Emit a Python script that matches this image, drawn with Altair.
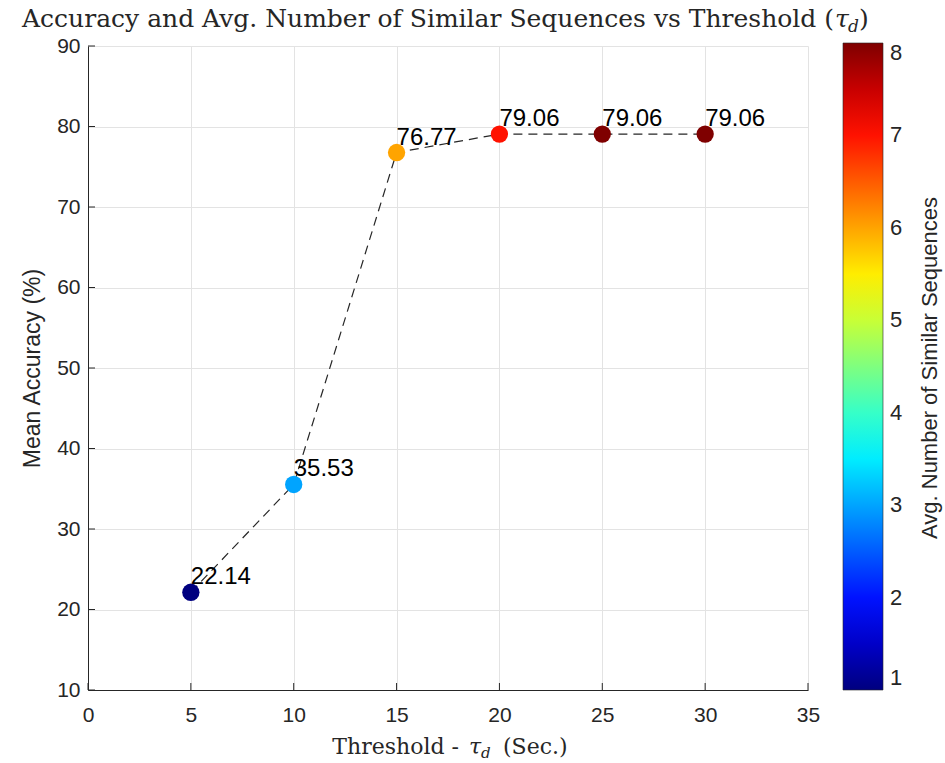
import altair as alt
import pandas as pd

# Threshold sweep results
thresholds = [5, 10, 15, 20, 25, 30]
accuracy = [22.14, 35.53, 76.77, 79.06, 79.06, 79.06]
avg_similar = [1.0, 3.0, 6.0, 7.0, 8.0, 8.0]

x_ticks = [0, 5, 10, 15, 20, 25, 30, 35]
y_ticks = [10, 20, 30, 40, 50, 60, 70, 80, 90]
cbar_ticks = [1, 2, 3, 4, 5, 6, 7, 8]

title_main = "Accuracy and Avg. Number of Similar Sequences vs Threshold ("
xlabel_main = "Threshold -"
tau = "\u03c4"
sub_d = "d"
close_paren = ")"
xlabel_end = "(Sec.)"
ylabel = "Mean Accuracy (%)"
cbar_label = "Avg. Number of Similar Sequences"

# jet colormap stops
jet = ["#00007F", "#0000FF", "#007FFF", "#00FFFF", "#7FFF7F",
       "#FFFF00", "#FF7F00", "#FF0000", "#7F0000"]

W, H = 720, 644
INK = "#262626"
SANS = "Liberation Sans"
SERIF = "DejaVu Serif"

df = pd.DataFrame({"thr": thresholds, "acc": accuracy, "avg": avg_similar})

xs = alt.Scale(domain=[0, 35], nice=False, zero=False)
ys = alt.Scale(domain=[10, 90], nice=False, zero=False)

x_enc = alt.X("thr:Q", scale=xs,
              axis=alt.Axis(values=x_ticks, title=None, ticks=False,
                            labelPadding=14, grid=True, format="d",
                            labelFlush=False,
                            labelFontSize=21, labelFont=SANS, labelColor=INK))
y_enc = alt.Y("acc:Q", scale=ys,
              axis=alt.Axis(values=y_ticks, title=ylabel, ticks=False,
                            labelPadding=8, grid=True, format="d",
                            labelFlush=False,
                            labelFontSize=21, labelFont=SANS, labelColor=INK,
                            titleFontSize=23, titleFont=SANS,
                            titleFontWeight="normal", titleColor=INK,
                            titlePadding=12))

base = alt.Chart(df)

line = base.mark_line(strokeDash=[9, 6], color=INK,
                      strokeWidth=1.2).encode(x=x_enc, y=y_enc)

points = base.mark_circle(size=300, opacity=1).encode(
    x="thr:Q", y="acc:Q",
    color=alt.Color(
        "avg:Q",
        scale=alt.Scale(domain=[1, 8], range=jet, interpolate="rgb"),
        legend=alt.Legend(
            orient="none", legendX=755, legendY=-3, direction="vertical",
            gradientLength=647, gradientThickness=40,
            gradientStrokeColor=INK, gradientStrokeWidth=0.6,
            values=cbar_ticks, format="d", labelOverlap=False,
            labelFontSize=22, labelFont=SANS, labelColor=INK, labelOffset=7,
            labelBaseline="middle",
            title=None, padding=0,
        ),
    ),
)

labels = base.mark_text(align="left", baseline="alphabetic", dy=-8,
                        fontSize=24, font=SANS, color="black").encode(
    x="thr:Q", y="acc:Q", text=alt.Text("acc:Q", format=".2f"))

# inward tick marks
xt = alt.Chart(pd.DataFrame({"thr": x_ticks})).mark_rule(
    color=INK, strokeWidth=1).encode(x="thr:Q", y=alt.value(H), y2=alt.value(H - 7))
yt = alt.Chart(pd.DataFrame({"acc": y_ticks})).mark_rule(
    color=INK, strokeWidth=1).encode(y="acc:Q", x=alt.value(0), x2=alt.value(7))

one = pd.DataFrame({"k": [0]})


def txt(s, x, y, size, align, font=SERIF, baseline="alphabetic",
        style="normal", angle=0):
    return alt.Chart(one).mark_text(
        text=s, fontSize=size, font=font, align=align, baseline=baseline,
        color=INK, fontStyle=style, angle=angle,
    ).encode(x=alt.value(x), y=alt.value(y))


# title with subscripted tau_d
title_layers = [
    txt(title_main, 746, -19, 25, "right"),
    txt(tau, 747, -19, 25, "left", style="italic"),
    txt(sub_d, 760, -14, 17, "left", style="italic"),
    txt(close_paren, 771, -19, 25, "left"),
]
# x-axis label with subscripted tau_d
xlabel_layers = [
    txt(xlabel_main, 371, H + 64, 22, "right"),
    txt(tau, 381, H + 64, 22, "left", style="italic"),
    txt(sub_d, 393, H + 68, 15, "left", style="italic"),
    txt(xlabel_end, 415, H + 64, 22, "left"),
]
cbar_title = txt(cbar_label, 842, 322, 22, "center", font=SANS,
                 baseline="middle", angle=270)

chart = alt.layer(
    line, xt, yt, points, labels, *title_layers, *xlabel_layers, cbar_title
).properties(
    width=W, height=H,
    autosize=alt.AutoSizeParams(type="none"),
    padding={"left": 88, "top": 46, "right": 137, "bottom": 73},
).configure_view(stroke=None).configure_axis(
    domainColor=INK, domainWidth=1, gridColor="#e3e3e3", gridWidth=1,
)

chart.save("out.html", embed_options={"renderer": "svg", "actions": False})
